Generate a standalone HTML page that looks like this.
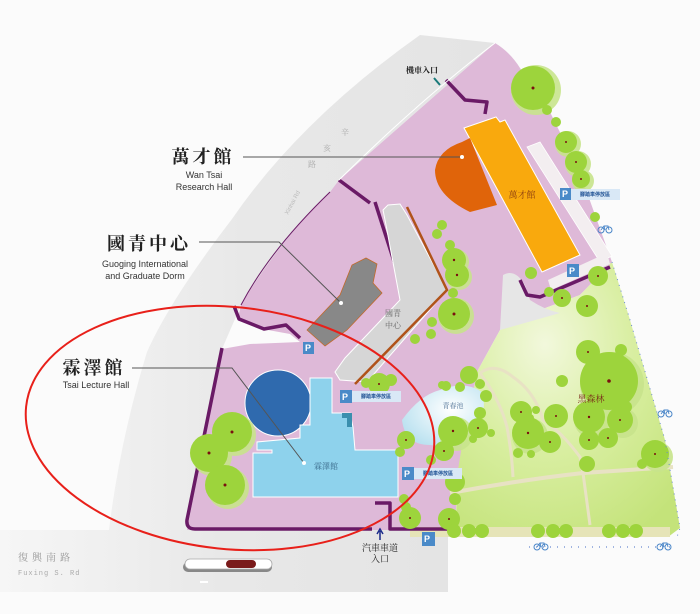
<!DOCTYPE html>
<html><head><meta charset="utf-8"><style>
html,body{margin:0;padding:0;background:#fbfbfb;}
svg{display:block}
.cn{font-family:"Liberation Serif","Noto Serif CJK SC","Noto Sans CJK TC",serif;}
.en{font-family:"Liberation Sans",sans-serif;}
</style></head><body>
<svg width="700" height="614" viewBox="0 0 700 614" xmlns="http://www.w3.org/2000/svg">
<defs>
<linearGradient id="gb" x1="0" x2="1" y1="0" y2="0"><stop offset="0" stop-color="#f6f6f6"/><stop offset="0.5" stop-color="#e8e8e8"/><stop offset="1" stop-color="#e4e4e4"/></linearGradient>
<radialGradient id="gg" cx="0.4" cy="0.3" r="0.8"><stop offset="0" stop-color="#f2f8dc"/><stop offset="0.5" stop-color="#d8eea0"/><stop offset="1" stop-color="#c4e37a"/></radialGradient>
<radialGradient id="pond" cx="0.6" cy="0.4" r="0.7"><stop offset="0" stop-color="#ffffff"/><stop offset="1" stop-color="#b7e0ef"/></radialGradient>
<g id="bike"><circle cx="-4" cy="0" r="3" fill="none" stroke="#4a86c8" stroke-width="1"/><circle cx="4" cy="0" r="3" fill="none" stroke="#4a86c8" stroke-width="1"/><path d="M-4 0 L-1 -4 L3 -4 L4 0 M-1 -4 L0 0" fill="none" stroke="#4a86c8" stroke-width="0.9"/></g>
</defs>
<rect width="700" height="614" fill="#fbfbfb"/>
<!-- road curve gray -->
<path d="M420 35 Q300 120 232 219 Q170 300 147 352 Q120 440 109 530 L0 530 L0 592 L448 592 L448 530 L187 530 L222 349 L241 305 L330 192 L339 180 L495 43 Z" fill="url(#gb)"/>
<rect x="0" y="530" width="448" height="62" fill="url(#gb)"/>
<!-- pink campus -->
<path d="M495 43 Q510 52 520 68 L549 110 L580 173 L612 262 L580 295 L540 310 L500 330 L478 370 L470 420 L458 470 L455 530 L187 530 L222 349 L250 344 L300 342 L290 334 L268 330 L238 318 L241 305 Q280 240 330 192 L339 180 Z" fill="#deb9d8"/>
<!-- green park -->
<path d="M612 262 L630 320 L665 440 L680 528 L668 537 L455 537 L458 470 L466 420 L478 370 L500 330 L540 310 L580 295 Z" fill="url(#gg)"/>
<rect x="410" y="527" width="260" height="10" fill="#e6e4b8"/>
<!-- park paths -->
<path d="M450 493 Q520 480 583 473 L673 467" fill="none" stroke="#e8e2c4" stroke-width="4"/>
<path d="M480 373 Q495 362 513 377 Q535 392 543 420 Q560 430 580 457 L583 473 L590 525" fill="none" stroke="#e8e2c4" stroke-width="3"/>
<path d="M480 373 Q500 400 507 427 Q512 455 513 477" fill="none" stroke="#e8e2c4" stroke-width="3"/>
<!-- gray patch near orange -->
<path d="M503 275 Q515 268 525 285 L530 300 Q545 310 560 313 L500 330 Z" fill="#e6e6e6"/>
<!-- pond -->
<path d="M402 420 Q420 395 440 390 Q465 380 482 392 Q488 410 475 430 Q455 448 430 445 Q405 445 402 420 Z" fill="url(#pond)"/>
<text x="453" y="408" class="cn" font-size="7" fill="#557799" text-anchor="middle">青春池</text>
<!-- purple walls -->
<g fill="none" stroke="#6a1a66" stroke-width="3.5" stroke-linejoin="round">
<path d="M446 80 L465 100 L487 102 L485 114"/>
<path d="M339 180 L370 203"/>
<path d="M375 202 L400 280"/>
<path d="M234 306 L239 319 L264 329 L286 325 L300 338"/>
<path d="M222 348 L187 520 Q186 529 195 529 L372 529"/>
<path d="M375 503 L390 503 L390 529 L449 529"/>
<path d="M520 280 L527 295 L540 297 L610 267"/>
</g>
<path d="M495 43 Q420 100 339 180" fill="none" stroke="#ffffff" stroke-width="1"/>
<path d="M330 192 Q270 250 241 305" fill="none" stroke="#6a1a66" stroke-width="1"/>
<!-- bike strip -->
<path d="M527 147 L540 142 L612 256 L600 262 Z" fill="#f3eef0" stroke="#fff" stroke-width="0.8"/>
<path d="M548 280 L607 253 L610 264 L551 290 Z" fill="#f3eef0"/>
<!-- orange building -->
<path d="M464 128 L496 117 L500 122 L505 120 L580 255 L542 272 Z" fill="#f9a90d" stroke="#fff" stroke-width="1"/>
<path d="M462 142 L470 138 L497 205 L470 212 Q435 195 435 170 Q438 150 462 142 Z" fill="#e0640a"/>
<text x="522" y="198" class="cn" font-size="9" fill="#8a3c10" text-anchor="middle">萬才館</text>
<!-- gray buildings -->
<path d="M383 210 L388 205 L400 204 L407 215 L447 290 L367 382 L340 380 L335 372 L345 358 L400 300 L386 225 Z" fill="#d6d6d6" stroke="#fff" stroke-width="1"/>
<path d="M407 207 L447 290 L355 384" fill="none" stroke="#b0531a" stroke-width="2.5"/>
<path d="M307 330 L340 295 L352 265 L366 258 L377 264 L373 283 L382 293 L347 330 L325 346 Z" fill="#888" stroke="#c26a2c" stroke-width="0.8"/>
<text x="393" y="316" class="cn" font-size="8" fill="#666" text-anchor="middle">國青</text>
<text x="393" y="328" class="cn" font-size="8" fill="#666" text-anchor="middle">中心</text>
<!-- blue buildings -->
<circle cx="278" cy="403" r="33" fill="#2f6aae" stroke="#fff" stroke-width="1"/>
<path d="M310 378 L332 378 L332 413 L350 413 L353 427 L355 450 L398 450 L398 497 L253 497 L253 453 L272 453 L272 450 L257 450 L257 442 L300 438 L300 425 L310 425 Z" fill="#8ed2ec" stroke="#fff" stroke-width="1"/>
<path d="M342 413 L352 413 L352 427 L347 427 L347 418 L342 418 Z" fill="#3a8fae"/>
<text x="326" y="469" class="cn" font-size="8" fill="#3a6a8a" text-anchor="middle">霖澤館</text>
<!-- trees -->
<g id="trees">
<g fill="#c8e48c" opacity="0.9">
<circle cx="536" cy="90" r="25"/><circle cx="568" cy="144" r="13"/><circle cx="578" cy="164" r="13"/><circle cx="583" cy="181" r="11"/><circle cx="456" cy="262" r="13"/><circle cx="459" cy="277" r="13"/><circle cx="456" cy="316" r="18"/><circle cx="235" cy="435" r="21"/><circle cx="212" cy="456" r="20"/><circle cx="228" cy="488" r="21"/><circle cx="612" cy="384" r="32"/><circle cx="592" cy="420" r="18"/><circle cx="530" cy="436" r="18"/><circle cx="456" cy="434" r="17"/><circle cx="658" cy="457" r="15"/><circle cx="623" cy="423" r="15"/>
</g>
<g fill="#9dd43c">
<circle cx="533" cy="88" r="22"/><circle cx="547" cy="110" r="5"/><circle cx="556" cy="122" r="5"/><circle cx="566" cy="142" r="11"/><circle cx="576" cy="162" r="11"/><circle cx="581" cy="179" r="9"/><circle cx="595" cy="217" r="5"/>
<circle cx="442" cy="225" r="5"/><circle cx="437" cy="234" r="5"/><circle cx="450" cy="245" r="5"/><circle cx="454" cy="260" r="12"/><circle cx="457" cy="275" r="12"/><circle cx="453" cy="293" r="5"/>
<circle cx="531" cy="273" r="6"/><circle cx="549" cy="292" r="5"/><circle cx="562" cy="298" r="9"/><circle cx="598" cy="276" r="10"/><circle cx="587" cy="306" r="11"/>
<circle cx="454" cy="314" r="16"/><circle cx="432" cy="322" r="5"/><circle cx="431" cy="334" r="5"/><circle cx="415" cy="339" r="5"/>
<circle cx="379" cy="384" r="11"/><circle cx="391" cy="380" r="6"/><circle cx="366" cy="383" r="5"/>
<circle cx="469" cy="375" r="9"/><circle cx="480" cy="384" r="5"/><circle cx="446" cy="386" r="5"/><circle cx="460" cy="387" r="5"/><circle cx="486" cy="396" r="6"/><circle cx="480" cy="413" r="6"/><circle cx="442" cy="385" r="4"/>
<circle cx="453" cy="431" r="15"/><circle cx="478" cy="428" r="10"/><circle cx="406" cy="440" r="9"/><circle cx="400" cy="452" r="5"/><circle cx="444" cy="451" r="10"/><circle cx="431" cy="460" r="5"/><circle cx="455" cy="482" r="10"/><circle cx="455" cy="499" r="6"/><circle cx="404" cy="499" r="5"/><circle cx="406" cy="507" r="5"/><circle cx="410" cy="518" r="11"/><circle cx="449" cy="519" r="11"/>
<circle cx="454" cy="531" r="7"/><circle cx="469" cy="531" r="7"/><circle cx="482" cy="531" r="7"/><circle cx="538" cy="531" r="7"/><circle cx="553" cy="531" r="7"/><circle cx="566" cy="531" r="7"/><circle cx="609" cy="531" r="7"/><circle cx="623" cy="531" r="7"/><circle cx="636" cy="531" r="7"/>
<circle cx="232" cy="432" r="20"/><circle cx="209" cy="453" r="19"/><circle cx="225" cy="485" r="20"/>
<circle cx="588" cy="352" r="12"/><circle cx="621" cy="350" r="6"/><circle cx="609" cy="381" r="29"/><circle cx="562" cy="381" r="6"/><circle cx="626" cy="407" r="6"/><circle cx="521" cy="412" r="11"/><circle cx="556" cy="416" r="12"/><circle cx="589" cy="417" r="16"/><circle cx="620" cy="420" r="13"/><circle cx="528" cy="433" r="16"/><circle cx="550" cy="442" r="11"/><circle cx="589" cy="440" r="10"/><circle cx="608" cy="438" r="10"/><circle cx="518" cy="453" r="5"/><circle cx="531" cy="454" r="4"/><circle cx="655" cy="454" r="14"/><circle cx="587" cy="464" r="8"/><circle cx="642" cy="464" r="5"/><circle cx="473" cy="439" r="4"/><circle cx="491" cy="433" r="4"/><circle cx="530" cy="418" r="4"/><circle cx="536" cy="410" r="4"/>
</g>
<g fill="#7a1010">
<circle cx="533" cy="88" r="1.5"/><circle cx="566" cy="142" r="1"/><circle cx="576" cy="162" r="1"/><circle cx="581" cy="179" r="1"/><circle cx="454" cy="260" r="1.2"/><circle cx="457" cy="275" r="1.2"/><circle cx="454" cy="314" r="1.5"/><circle cx="232" cy="432" r="1.5"/><circle cx="209" cy="453" r="1.5"/><circle cx="225" cy="485" r="1.5"/><circle cx="609" cy="381" r="1.8"/><circle cx="589" cy="417" r="1.2"/><circle cx="528" cy="433" r="1.2"/><circle cx="556" cy="416" r="1"/><circle cx="620" cy="420" r="1"/><circle cx="521" cy="412" r="1"/><circle cx="550" cy="442" r="1"/><circle cx="589" cy="440" r="1"/><circle cx="608" cy="438" r="1"/><circle cx="655" cy="454" r="1"/><circle cx="588" cy="352" r="1"/><circle cx="453" cy="431" r="1.2"/><circle cx="598" cy="276" r="1"/><circle cx="562" cy="298" r="1"/><circle cx="587" cy="306" r="1"/><circle cx="379" cy="384" r="1"/><circle cx="410" cy="518" r="1"/><circle cx="449" cy="519" r="1"/><circle cx="478" cy="428" r="1"/><circle cx="444" cy="451" r="1"/><circle cx="406" cy="440" r="1"/>
</g>
</g>
<!-- P icons -->
<g class="en" font-size="9" font-weight="bold" fill="#fff">
<rect x="560" y="188" width="11" height="12" fill="#4a8ac8"/><text x="562" y="197">P</text>
<rect x="571" y="189" width="49" height="11" fill="#d9e8f6"/><text x="595" y="196" font-size="5" fill="#2a5a9a" text-anchor="middle">腳踏車停放區</text>
<rect x="567" y="264" width="12" height="13" fill="#4a8ac8"/><text x="569" y="274">P</text>
<rect x="303" y="342" width="11" height="12" fill="#4a8ac8"/><text x="305" y="351">P</text>
<rect x="340" y="390" width="12" height="13" fill="#4a8ac8"/><text x="342" y="400">P</text>
<rect x="352" y="391" width="49" height="11" fill="#d9e8f6"/><text x="376" y="398" font-size="5" fill="#2a5a9a" text-anchor="middle">腳踏車停放區</text>
<rect x="402" y="467" width="12" height="13" fill="#4a8ac8"/><text x="404" y="477">P</text>
<rect x="414" y="468" width="48" height="11" fill="#d9e8f6"/><text x="438" y="475" font-size="5" fill="#2a5a9a" text-anchor="middle">腳踏車停放區</text>
<rect x="422" y="532" width="13" height="14" fill="#4a8ac8"/><text x="424" y="542">P</text>
</g>
<!-- dotted border right & bottom -->
<path d="M612 262 L630 320 L665 440 L680 528 L676 540" fill="none" stroke="#6a8ad0" stroke-width="1" stroke-dasharray="1 5"/>
<path d="M529 547 L672 547" fill="none" stroke="#6a8ad0" stroke-width="1.2" stroke-dasharray="1 6"/>
<use href="#bike" x="541" y="547"/><use href="#bike" x="664" y="547"/><use href="#bike" x="605" y="230"/><use href="#bike" x="665" y="414"/>
<!-- labels -->
<text x="203" y="163" class="cn" font-size="18" font-weight="bold" fill="#222" text-anchor="middle" letter-spacing="3">萬才館</text>
<text x="204" y="178" class="en" font-size="9" fill="#333" text-anchor="middle">Wan Tsai</text>
<text x="204" y="190" class="en" font-size="9" fill="#333" text-anchor="middle">Research Hall</text>
<path d="M243 157 L462 157" stroke="#555" stroke-width="1"/><circle cx="462" cy="157" r="2" fill="#fff"/>
<text x="149" y="250" class="cn" font-size="18" font-weight="bold" fill="#222" text-anchor="middle" letter-spacing="3">國青中心</text>
<text x="145" y="267" class="en" font-size="9" fill="#333" text-anchor="middle">Guoging International</text>
<text x="145" y="279" class="en" font-size="9" fill="#333" text-anchor="middle">and Graduate Dorm</text>
<path d="M199 242 L279 242 L341 303" fill="none" stroke="#555" stroke-width="1"/><circle cx="341" cy="303" r="2" fill="#fff"/>
<text x="94" y="374" class="cn" font-size="18" font-weight="bold" fill="#222" text-anchor="middle" letter-spacing="3">霖澤館</text>
<text x="96" y="388" class="en" font-size="9" fill="#333" text-anchor="middle">Tsai Lecture Hall</text>
<path d="M132 368 L232 368 L304 463" fill="none" stroke="#555" stroke-width="1"/><circle cx="304" cy="463" r="2" fill="#fff"/>
<text x="422" y="73" class="cn" font-size="8" font-weight="bold" fill="#222" text-anchor="middle">機車入口</text>
<path d="M434 78 L440 85" stroke="#1a7a7a" stroke-width="2"/>
<text x="591" y="402" class="cn" font-size="9" fill="#7a2a1a" text-anchor="middle">黑森林</text>
<text class="cn" font-size="8" fill="#aaa"><tspan x="341" y="135">辛</tspan><tspan x="323" y="151">亥</tspan><tspan x="308" y="167">路</tspan></text>
<text x="0" y="0" class="en" font-size="6" fill="#bbb" transform="translate(288,215) rotate(-62)">Xinhai Rd</text>
<text x="380" y="551" class="cn" font-size="9" fill="#222" text-anchor="middle">汽車車道</text>
<text x="380" y="562" class="cn" font-size="9" fill="#222" text-anchor="middle">入口</text>
<path d="M380 540 L380 531 M377 534 L380 529 L383 534" fill="none" stroke="#1a2a8a" stroke-width="1.5"/>
<text x="18" y="561" class="cn" font-size="10" fill="#999" letter-spacing="4">復興南路</text>
<text x="18" y="575" font-family="Liberation Mono,monospace" font-size="7" fill="#aaa" letter-spacing="1">Fuxing S. Rd</text>
<!-- slider -->
<rect x="183" y="562" width="89" height="10" rx="5" fill="#888"/>
<rect x="185" y="559" width="87" height="10" rx="5" fill="#fff" stroke="#aaa" stroke-width="0.8"/>
<rect x="226" y="560" width="30" height="8" rx="4" fill="#7a1a1a"/>
<path d="M200 582 L208 582" stroke="#fff" stroke-width="2"/>
<!-- red ellipse -->
<ellipse cx="230" cy="428" rx="205" ry="121" transform="rotate(6 230 428)" fill="none" stroke="#e8201a" stroke-width="2"/>
</svg>
</body></html>
